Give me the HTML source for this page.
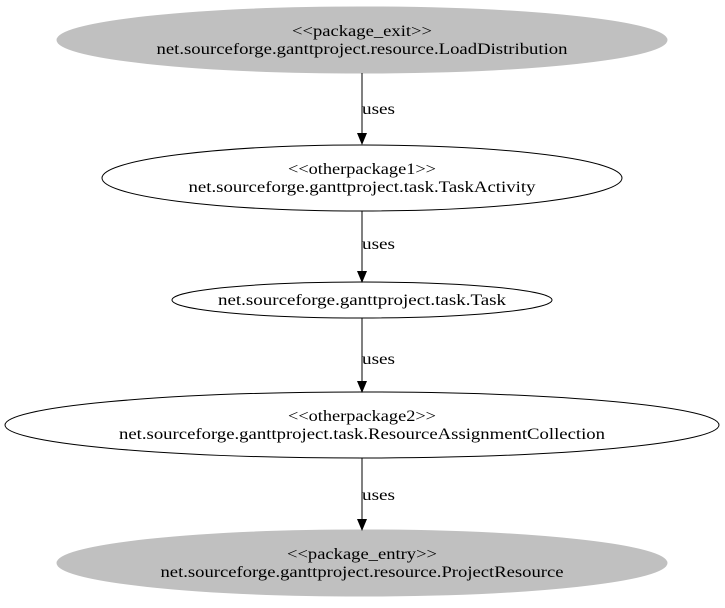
<!DOCTYPE html>
<html><head><meta charset="utf-8"><style>html,body{margin:0;padding:0;background:#fff}</style></head>
<body>
<svg width="725" height="603" viewBox="0 0 725 603" xmlns="http://www.w3.org/2000/svg" font-family="Liberation Serif, serif" font-size="16">
<g stroke="#000" fill="none">
<ellipse cx="362" cy="40" rx="305" ry="33" fill="#c0c0c0" stroke="#c0c0c0"/>
<ellipse cx="362" cy="178" rx="260" ry="33" fill="#fff"/>
<ellipse cx="362" cy="300" rx="190" ry="18" fill="#fff"/>
<ellipse cx="362" cy="425" rx="357" ry="33" fill="#fff"/>
<ellipse cx="362" cy="563" rx="305" ry="33" fill="#c0c0c0" stroke="#c0c0c0"/>
<line x1="362" y1="73" x2="362" y2="134"/>
<line x1="362" y1="211" x2="362" y2="272"/>
<line x1="362" y1="318" x2="362" y2="382"/>
<line x1="362" y1="458" x2="362" y2="520"/>
</g>
<g fill="#000">
<polygon points="357,133 367,133 362,145"/>
<polygon points="357,271 367,271 362,283"/>
<polygon points="357,381 367,381 362,393"/>
<polygon points="357,519 367,519 362,531"/>
</g>
<g text-anchor="middle" fill="#000" lengthAdjust="spacingAndGlyphs">
<text x="362" y="36" textLength="140" lengthAdjust="spacingAndGlyphs">&lt;&lt;package_exit&gt;&gt;</text>
<text x="362" y="54" textLength="411" lengthAdjust="spacingAndGlyphs">net.sourceforge.ganttproject.resource.LoadDistribution</text>
<text x="362" y="174" textLength="148" lengthAdjust="spacingAndGlyphs">&lt;&lt;otherpackage1&gt;&gt;</text>
<text x="362" y="192" textLength="347" lengthAdjust="spacingAndGlyphs">net.sourceforge.ganttproject.task.TaskActivity</text>
<text x="362" y="305" textLength="288" lengthAdjust="spacingAndGlyphs">net.sourceforge.ganttproject.task.Task</text>
<text x="362" y="421" textLength="148" lengthAdjust="spacingAndGlyphs">&lt;&lt;otherpackage2&gt;&gt;</text>
<text x="362" y="439" textLength="486" lengthAdjust="spacingAndGlyphs">net.sourceforge.ganttproject.task.ResourceAssignmentCollection</text>
<text x="362" y="559" textLength="150" lengthAdjust="spacingAndGlyphs">&lt;&lt;package_entry&gt;&gt;</text>
<text x="362" y="577" textLength="403" lengthAdjust="spacingAndGlyphs">net.sourceforge.ganttproject.resource.ProjectResource</text>
</g>
<g fill="#000">
<text x="362" y="114" textLength="33" lengthAdjust="spacingAndGlyphs">uses</text>
<text x="362" y="249" textLength="33" lengthAdjust="spacingAndGlyphs">uses</text>
<text x="362" y="364" textLength="33" lengthAdjust="spacingAndGlyphs">uses</text>
<text x="362" y="500" textLength="33" lengthAdjust="spacingAndGlyphs">uses</text>
</g>
</svg>
</body></html>
